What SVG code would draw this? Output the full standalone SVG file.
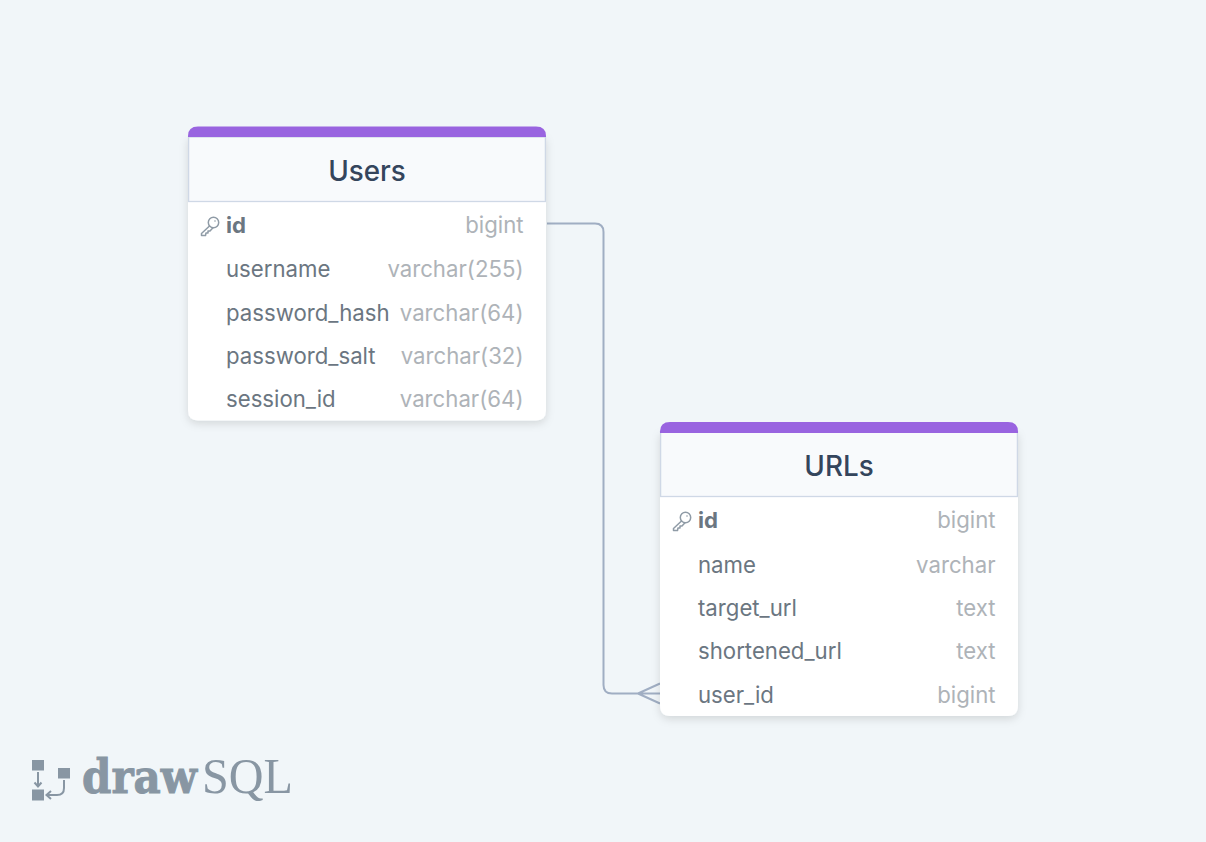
<svg xmlns="http://www.w3.org/2000/svg" width="1206" height="842" viewBox="0 0 1206 842">
<style>
text{font-family:Inter,"Noto Sans",sans-serif}
.title{font-size:27.8px;fill:#34455c;text-anchor:middle;font-weight:450}
.col{font-size:22.2px;fill:#6b7681}
.pk{font-weight:700}
.type{font-size:22.2px;fill:#aeb3b8;text-anchor:end}
.body{fill:#fff;filter:url(#sh)}
.head{fill:#f8fafc;stroke:#cfd8e6;stroke-width:1.3}
.bar{fill:#9964e0}
.conn{fill:none;stroke:#a0aec3;stroke-width:2}
.key{fill:none;stroke:#8f9ba6;stroke-width:1.5;stroke-linejoin:round;stroke-linecap:round}
.lg{fill:#8896a3}
.lgl{fill:none;stroke:#8896a3;stroke-width:2}
</style>
<defs>
<filter id="sh" x="-10%" y="-10%" width="120%" height="120%"><feDropShadow dx="0" dy="3" stdDeviation="4" flood-color="#000" flood-opacity="0.13"/></filter>
<g id="k"><circle cx="13.500" cy="-3.500" r="5.200" class="key"/><path class="key" d="M9.500 0L1.500 7.500V9.500H5.500L6 7H8V5H10L13 1.700"/><circle cx="15" cy="-5" r="0.800" fill="#8f9ba6"/></g>
</defs>
<rect width="1206" height="842" fill="#f1f6f9"/>
<g id="connectors">
<path class="conn" d="M547 223.500H595Q603.500 223.500 603.500 232V685Q603.500 693.500 612 693.500H660M638 693.500L660 683.500M638 693.500L660 703.500"/>
</g>
<g id="users">
<path class="body" d="M188 137H546V410Q546 420.500 536 420.500H198Q188 420.500 188 410Z"/>
<rect class="head" x="188.600" y="137" width="356.800" height="64.500"/>
<path class="bar" d="M188 137V136Q188 126.500 198 126.500H536Q546 126.500 546 136V137Z"/>
<text class="title" x="367" y="180.500">Users</text>
<use href="#k" x="200" y="226"/>
<text class="col pk" x="226" y="233">id</text><text class="type" x="523.500" y="233">bigint</text>
<text class="col" x="226" y="276.500">username</text><text class="type" x="523.500" y="276.500">varchar(255)</text>
<text class="col" x="226" y="320.500">password_hash</text><text class="type" x="523.500" y="320.500">varchar(64)</text>
<text class="col" x="226" y="363.500">password_salt</text><text class="type" x="523.500" y="363.500">varchar(32)</text>
<text class="col" x="226" y="406.500">session_id</text><text class="type" x="523.500" y="406.500">varchar(64)</text>
</g>
<g id="urls">
<path class="body" d="M660 432H1018V705Q1018 716 1008 716H670Q660 716 660 705Z"/>
<rect class="head" x="660.600" y="432" width="356.800" height="64.500"/>
<path class="bar" d="M660 433V431.500Q660 422 670 422H1008Q1018 422 1018 431.500V433Z"/>
<text class="title" x="839" y="475.500">URLs</text>
<use href="#k" x="672" y="521"/>
<text class="col pk" x="698" y="528">id</text><text class="type" x="995.500" y="528">bigint</text>
<text class="col" x="698" y="572.500">name</text><text class="type" x="995.500" y="572.500">varchar</text>
<text class="col" x="698" y="615.500">target_url</text><text class="type" x="995.500" y="615.500">text</text>
<text class="col" x="698" y="658.500">shortened_url</text><text class="type" x="995.500" y="658.500">text</text>
<text class="col" x="698" y="702.500">user_id</text><text class="type" x="995.500" y="702.500">bigint</text>
</g>
<g id="logo">
<rect class="lg" x="32" y="760" width="12" height="10.500"/>
<rect class="lg" x="58" y="768" width="12" height="10.500"/>
<rect class="lg" x="32" y="789.500" width="12" height="11"/>
<path class="lgl" d="M38 772V786M34.500 782.500L38 786.500L41.500 782.500M64 780V788Q64 795 57 795H47M51 791L46.500 795L51 799"/>
<text x="82" y="793" font-size="46" font-weight="700" fill="#8896a3" stroke="#8896a3" stroke-width="1" textLength="115" lengthAdjust="spacingAndGlyphs" style="font-family:'DejaVu Serif',serif">draw</text>
<text x="202" y="793" font-size="50" fill="#8896a3" textLength="91" lengthAdjust="spacingAndGlyphs" style="font-family:'Liberation Serif',serif">SQL</text>
</g>
</svg>
